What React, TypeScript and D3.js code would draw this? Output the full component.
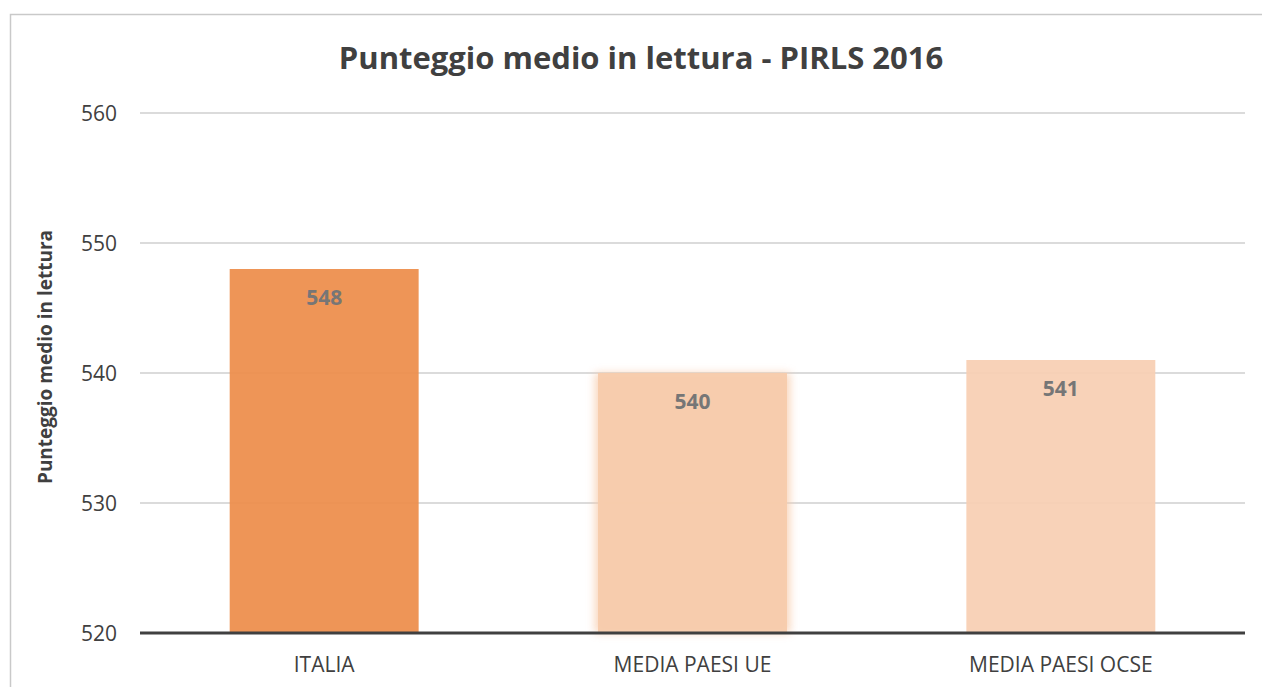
import React from "react";
import * as d3 from "d3";

const categories = ["ITALIA", "MEDIA PAESI UE", "MEDIA PAESI OCSE"];
const values = [548, 540, 541];
const barColors = ["#ED8F4E", "#F7CBAC", "#F8D0B4"];
const yTicks = [520, 530, 540, 550, 560];
const title = "Punteggio medio in lettura - PIRLS 2016";
const yTitle = "Punteggio medio in lettura";

const W = 1262;
const H = 687;
const FONT = "'Open Sans', sans-serif";

export default function App() {
  const left = 140, right = 1245, top = 113, bottom = 633;
  const x = d3.scaleBand<string>().domain(categories).range([left, right]).paddingInner(0.487).paddingOuter(0.2435);
  const y = d3.scaleLinear().domain([520, 560]).range([bottom, top]);

  return (
    <svg width={W} height={H} style={{ position: "fixed", left: 0, top: 0, background: "#fff" }}>
      <defs>
        <filter id="glow" x="-20%" y="-20%" width="140%" height="140%">
          <feGaussianBlur stdDeviation="4" />
        </filter>
      </defs>
      <rect x={0} y={0} width={W} height={H} fill="#fff" />
      <rect x={10.5} y={14.5} width={1260} height={700} fill="none" stroke="#C9C9C9" strokeWidth={1.5} />
      <text x={641} y={69} textAnchor="middle" fontFamily={FONT} fontWeight={700} fontSize={31} fill="#404040">
        {title}
      </text>
      {yTicks.map((t) => (
        <g key={t}>
          {t !== 520 && (
            <line x1={left} x2={right} y1={y(t)} y2={y(t)} stroke="#CFCFCF" strokeWidth={1.5} />
          )}
          <text x={117} y={y(t)} dy="0.36em" textAnchor="end" fontFamily={FONT} fontSize={21} fill="#404040">
            {t}
          </text>
        </g>
      ))}
      {categories.map((c, i) => {
        const x0 = x(c)!;
        const bw = x.bandwidth();
        return (
          <g key={c}>
            {i === 1 && (
              <rect x={x0 - 3} y={y(values[i])} width={bw + 6} height={bottom - y(values[i])} fill="#F7CBAC" opacity={0.8} filter="url(#glow)" />
            )}
            <rect x={x0} y={y(values[i])} width={bw} height={bottom - y(values[i])} fill={barColors[i]} fillOpacity={0.95} />
            <text x={x0 + bw / 2} y={y(values[i]) + 36} textAnchor="middle" fontFamily={FONT} fontWeight={700} fontSize={21} fill="#767676">
              {values[i]}
            </text>
            <text x={x0 + bw / 2} y={672} textAnchor="middle" fontFamily={FONT} fontSize={21} fill="#404040">
              {c}
            </text>
          </g>
        );
      })}
      <line x1={left} x2={right} y1={bottom} y2={bottom} stroke="#404040" strokeWidth={3} />
      <text transform={`translate(52,357) rotate(-90)`} textAnchor="middle" fontFamily={FONT} fontWeight={700} fontSize={19} fill="#404040">
        {yTitle}
      </text>
    </svg>
  );
}
